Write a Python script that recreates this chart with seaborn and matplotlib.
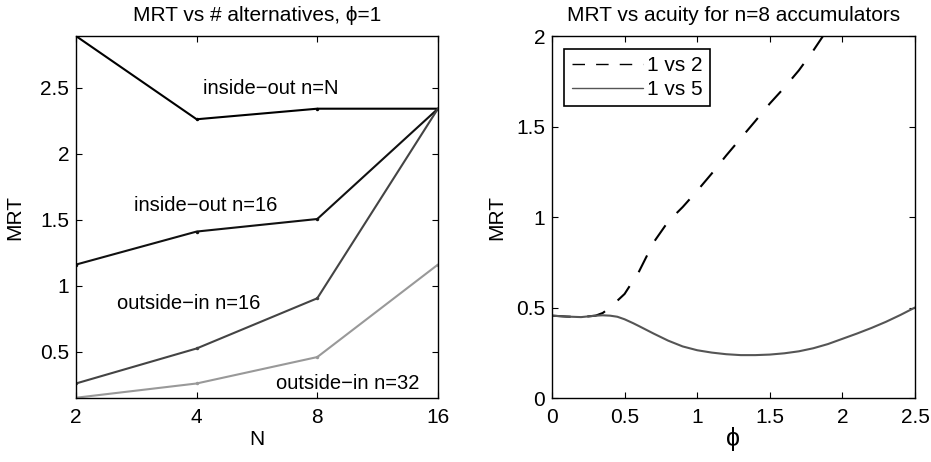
import numpy as np
import pandas as pd
import matplotlib
matplotlib.use('Agg')
import matplotlib.pyplot as plt
import seaborn as sns
from matplotlib.ticker import FixedLocator, FixedFormatter


# left panel: MRT vs number of alternatives
n_alt = [2, 4, 8, 16]
io_nN = [2.89, 2.26, 2.34, 2.34]
io_n16 = [1.16, 1.41, 1.505, 2.34]
oi_n16 = [0.26, 0.525, 0.905, 2.34]
oi_n32 = [0.152, 0.26, 0.46, 1.16]

# right panel: MRT vs acuity phi
phi_solid = [0.0, 0.1, 0.2, 0.3, 0.35, 0.4, 0.45, 0.5, 0.56, 0.6, 0.7, 0.8,
             0.9, 1.0, 1.1, 1.2, 1.3, 1.4, 1.5, 1.6, 1.7, 1.8, 1.9, 2.0, 2.1,
             2.2, 2.3, 2.4, 2.5]
mrt_1v5 = [0.455, 0.45, 0.447, 0.455, 0.457, 0.455, 0.449, 0.435, 0.413,
           0.397, 0.356, 0.317, 0.285, 0.264, 0.251, 0.242, 0.237, 0.237,
           0.240, 0.247, 0.258, 0.275, 0.298, 0.327, 0.356, 0.387, 0.421,
           0.459, 0.50]
phi_dash = [0.0, 0.1, 0.2, 0.3, 0.35, 0.4, 0.5, 0.6, 0.7, 0.8, 0.9, 1.0, 1.1,
            1.2, 1.3, 1.4, 1.5, 1.6, 1.7, 1.8, 1.9]
mrt_1v2 = [0.455, 0.45, 0.447, 0.455, 0.47, 0.50, 0.575, 0.70, 0.86, 0.975,
           1.055, 1.145, 1.24, 1.34, 1.435, 1.53, 1.627, 1.715, 1.81, 1.92, 2.04]

sns.set_style('ticks')
plt.rcParams['font.family'] = ['Liberation Sans', 'DejaVu Sans']
plt.rcParams['font.size'] = 15
plt.rcParams['text.color'] = 'black'
plt.rcParams['axes.labelcolor'] = 'black'
plt.rcParams['axes.titlecolor'] = 'black'
plt.rcParams['xtick.color'] = 'black'
plt.rcParams['ytick.color'] = 'black'
plt.rcParams['axes.linewidth'] = 1.0
plt.rcParams['xtick.direction'] = 'in'
plt.rcParams['ytick.direction'] = 'in'
plt.rcParams['xtick.top'] = True
plt.rcParams['ytick.right'] = True
plt.rcParams['xtick.major.size'] = 4
plt.rcParams['ytick.major.size'] = 4
plt.rcParams['xtick.major.pad'] = 7
plt.rcParams['ytick.major.pad'] = 5
plt.rcParams['xtick.labelsize'] = 15
plt.rcParams['ytick.labelsize'] = 15

fig = plt.figure(figsize=(9.31, 4.62), dpi=100)
ax1 = fig.add_axes([0.0816, 0.1385, 0.3888, 0.7835])
ax2 = fig.add_axes([0.5929, 0.1385, 0.3899, 0.7835])

# left panel
for vals, col in [(io_nN, 'black'), (io_n16, '#111111'),
                  (oi_n16, '#444444'), (oi_n32, '#999999')]:
    sns.lineplot(x=n_alt, y=vals, ax=ax1, color=col, lw=1.5, marker='o',
                 markersize=2.5, markeredgewidth=0, estimator=None)
ax1.set_xscale('log', base=2)
ax1.set_xlim(2, 16)
ax1.set_ylim(0.15, 2.89)
ax1.xaxis.set_major_locator(FixedLocator(n_alt))
ax1.xaxis.set_major_formatter(FixedFormatter([str(v) for v in n_alt]))
ax1.xaxis.set_minor_locator(FixedLocator([]))
ax1.set_yticks([0.5, 1, 1.5, 2, 2.5])
ax1.set_yticklabels(['0.5', '1', '1.5', '2', '2.5'])
ax1.set_xlabel('N', labelpad=2)
ax1.set_ylabel('MRT', labelpad=11)
ax1.set_title('MRT vs # alternatives, ϕ=1', fontsize=15, pad=11)
ax1.text(0.351, 0.856, 'inside\u2212out n=N', transform=ax1.transAxes,
         va='center', fontsize=14.5)
ax1.text(0.160, 0.533, 'inside\u2212out n=16', transform=ax1.transAxes,
         va='center', fontsize=14.5)
ax1.text(0.113, 0.262, 'outside\u2212in n=16', transform=ax1.transAxes,
         va='center', fontsize=14.5)
ax1.text(0.552, 0.041, 'outside\u2212in n=32', transform=ax1.transAxes,
         va='center', fontsize=14.5)

# right panel
df = pd.concat([
    pd.DataFrame({'phi': phi_dash, 'MRT': mrt_1v2, 'pair': '1 vs 2'}),
    pd.DataFrame({'phi': phi_solid, 'MRT': mrt_1v5, 'pair': '1 vs 5'}),
])
sns.lineplot(data=df, x='phi', y='MRT', hue='pair', style='pair', ax=ax2,
             palette={'1 vs 2': 'black', '1 vs 5': '#555555'},
             dashes={'1 vs 2': (9, 8), '1 vs 5': ''}, lw=1.5, estimator=None)
ax2.set_xlim(0, 2.5)
ax2.set_ylim(0, 2)
ax2.set_xticks([0, 0.5, 1, 1.5, 2, 2.5])
ax2.set_xticklabels(['0', '0.5', '1', '1.5', '2', '2.5'])
ax2.set_yticks([0, 0.5, 1, 1.5, 2])
ax2.set_yticklabels(['0', '0.5', '1', '1.5', '2'])
ax2.set_xlabel('ϕ', fontsize=18, labelpad=0)
ax2.set_ylabel('MRT', labelpad=7)
ax2.set_title('MRT vs acuity for n=8 accumulators', fontsize=15, pad=11)
leg = ax2.legend(loc='upper left', fontsize=15, frameon=True, fancybox=False,
                 edgecolor='black', handlelength=3.4, borderpad=0.35,
                 labelspacing=0.25, handletextpad=0.2, borderaxespad=0.6,
                 framealpha=1)
leg.get_frame().set_linewidth(1.2)
for h in leg.get_lines():
    h.set_linewidth(1.0)

for ax in (ax1, ax2):
    for sp in ax.spines.values():
        sp.set_color('black')

fig.savefig('out.png', dpi=100)
